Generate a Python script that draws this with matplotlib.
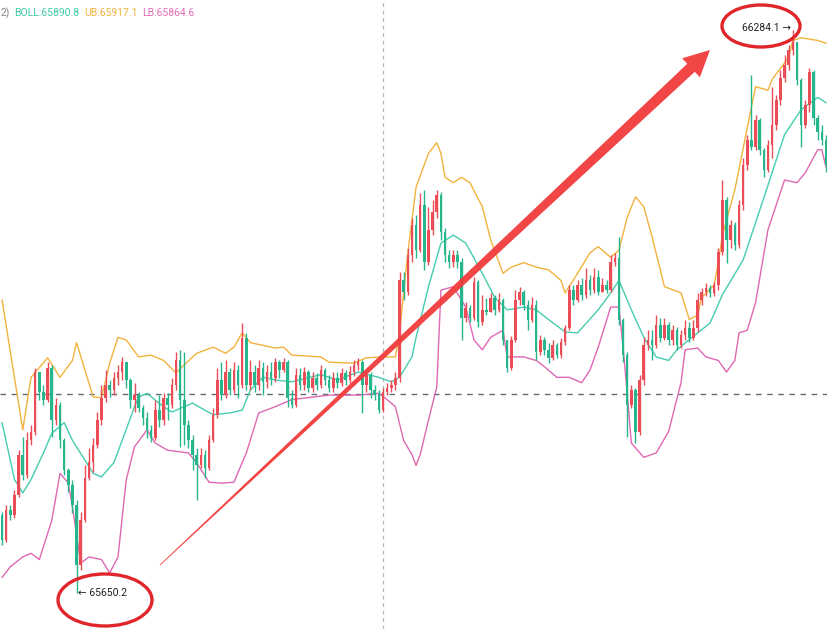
import matplotlib.pyplot as plt
from matplotlib.patches import Ellipse, Polygon
import numpy as np

# candle data (price), open of each candle = previous close
first_open = 65738
closes = [
    65710, 65744, 65738, 65761, 65806, 65783, 65822, 65832, 65899, 65876,
    65868, 65904, 65845, 65862, 65822, 65789, 65772, 65749, 65682, 65732,
    65780, 65798, 65817, 65845, 65870, 65884, 65879, 65892, 65899, 65910,
    65890, 65868, 65873, 65858, 65847, 65834, 65825, 65856, 65845, 65870,
    65862, 65884, 65912, 65868, 65839, 65822, 65806, 65794, 65806, 65791,
    65822, 65851, 65890, 65873, 65899, 65879, 65901, 65884, 65937, 65884,
    65899, 65884, 65904, 65888, 65899, 65892, 65910, 65901, 65910, 65870,
    65862, 65896, 65884, 65899, 65881, 65892, 65884, 65901, 65890, 65881,
    65892, 65887, 65898, 65890, 65899, 65907, 65910, 65884, 65896, 65879,
    65873, 65856, 65876, 65881, 65884, 65892, 66002, 65989, 66031, 66064,
    66036, 66087, 66023, 66059, 66079, 66098, 66056, 66031, 66023, 66031,
    66023, 65960, 65971, 65960, 66000, 65955, 65969, 65966, 65982, 65969,
    65980, 65935, 65904, 65935, 65980, 65989, 65974, 65958, 65974, 65922,
    65935, 65924, 65915, 65929, 65918, 65933, 65948, 65991, 65980, 65997,
    65986, 66002, 65991, 66006, 65989, 65997, 65991, 66023, 66027, 65958,
    65918, 65862, 65879, 65832, 65890, 65929, 65935, 65929, 65952, 65937,
    65952, 65935, 65946, 65929, 65941, 65948, 65937, 65948, 65980, 65989,
    65994, 65988, 65997, 66034, 66092, 66048, 66064, 66042, 66087, 66132,
    66160, 66152, 66182, 66149, 66126, 66154, 66177, 66205, 66230, 66244,
    66261, 66270, 66228, 66177, 66199, 66236, 66185, 66169, 66160, 66132,
]
highs = [
    65742, 65749, 65749, 65766, 65811, 65826, 65832, 65839, 65904, 65899,
    65884, 65910, 65907, 65870, 65865, 65825, 65791, 65778, 65755, 65742,
    65794, 65814, 65825, 65854, 65884, 65901, 65890, 65899, 65907, 65916,
    65910, 65892, 65887, 65876, 65862, 65854, 65839, 65868, 65873, 65875,
    65875, 65892, 65922, 65924, 65922, 65845, 65828, 65814, 65814, 65811,
    65828, 65858, 65904, 65910, 65912, 65904, 65910, 65907, 65954, 65943,
    65912, 65907, 65912, 65910, 65907, 65910, 65915, 65912, 65915, 65912,
    65879, 65904, 65904, 65905, 65901, 65899, 65898, 65907, 65904, 65896,
    65899, 65899, 65904, 65901, 65906, 65912, 65915, 65912, 65901, 65899,
    65884, 65879, 65881, 65887, 65890, 65899, 66011, 66011, 66038, 66072,
    66076, 66100, 66104, 66085, 66092, 66104, 66101, 66061, 66036, 66036,
    66036, 66027, 65978, 65974, 66006, 66002, 65986, 65982, 65988, 65986,
    65988, 65982, 65935, 65940, 65991, 65995, 65991, 65980, 65983, 65980,
    65941, 65938, 65932, 65935, 65932, 65937, 65952, 65997, 65997, 66002,
    66005, 66016, 66008, 66016, 66014, 66005, 66002, 66031, 66033, 66051,
    65960, 65922, 65884, 65881, 65896, 65938, 65946, 65946, 65963, 65960,
    65960, 65955, 65952, 65950, 65946, 65958, 65955, 65958, 65988, 65994,
    65999, 65997, 66000, 66038, 66115, 66096, 66070, 66068, 66092, 66140,
    66166, 66233, 66188, 66185, 66151, 66160, 66220, 66211, 66239, 66256,
    66267, 66284.1, 66267, 66230, 66205, 66241, 66239, 66188, 66177, 66166,
]
lows = [
    65704, 65708, 65732, 65735, 65758, 65778, 65780, 65817, 65828, 65868,
    65862, 65865, 65826, 65839, 65814, 65783, 65764, 65740, 65650.2, 65676,
    65730, 65778, 65786, 65814, 65839, 65865, 65871, 65873, 65884, 65890,
    65881, 65858, 65854, 65854, 65839, 65825, 65820, 65822, 65837, 65839,
    65845, 65858, 65879, 65815, 65817, 65814, 65789, 65755, 65791, 65780,
    65789, 65820, 65847, 65868, 65870, 65873, 65875, 65870, 65881, 65879,
    65879, 65876, 65879, 65873, 65881, 65884, 65888, 65892, 65899, 65860,
    65858, 65860, 65879, 65879, 65876, 65876, 65879, 65881, 65884, 65876,
    65876, 65881, 65883, 65884, 65887, 65894, 65901, 65853, 65876, 65870,
    65868, 65853, 65854, 65873, 65876, 65879, 65888, 65980, 65986, 66023,
    66027, 66034, 66014, 66019, 66053, 66072, 66048, 66023, 66016, 66017,
    66016, 65935, 65955, 65955, 65958, 65950, 65952, 65963, 65966, 65963,
    65966, 65929, 65899, 65901, 65933, 65974, 65969, 65946, 65955, 65912,
    65918, 65918, 65909, 65912, 65915, 65915, 65929, 65946, 65974, 65978,
    65980, 65982, 65986, 65988, 65986, 65989, 65988, 65989, 66018, 65952,
    65910, 65826, 65858, 65819, 65828, 65884, 65924, 65912, 65926, 65933,
    65935, 65929, 65929, 65924, 65926, 65935, 65933, 65935, 65944, 65974,
    65984, 65983, 65984, 65991, 66031, 66022, 66038, 66036, 66038, 66081,
    66126, 66149, 66149, 66143, 66118, 66124, 66140, 66171, 66199, 66225,
    66239, 66256, 66222, 66152, 66174, 66192, 66177, 66160, 66154, 66124,
]

# Bollinger bands, sampled at candle index
ub_idx = [0, 5, 7, 11, 14, 17, 18, 22, 24, 26, 28, 30, 33, 36, 39, 42, 44, 47, 51, 54,
          56, 58, 60, 66, 68, 70, 77, 79, 85, 88, 92, 95, 96, 98, 100, 103, 105, 106, 107, 109,
          111, 113, 116, 118, 121, 123, 126, 129, 132, 135, 136, 139, 142, 144, 147, 149, 151, 153, 155, 157,
          160, 164, 166, 168, 169, 172, 173, 174, 177, 181, 182, 185, 186, 190, 191, 193, 197, 199]
ub_val = [65980, 65834, 65893, 65915, 65893, 65912, 65932, 65871, 65870, 65909,
          65938, 65935, 65916, 65918, 65912, 65898, 65907, 65920, 65927, 65920,
          65927, 65943, 65932, 65926, 65927, 65918, 65916, 65910, 65909, 65915,
          65916, 65916, 65943, 66033, 66107, 66145, 66157, 66145, 66118, 66112,
          66118, 66112, 66085, 66048, 66010, 66017, 66022, 66017, 66014, 66002,
          65988, 66010, 66033, 66040, 66028, 66036, 66073, 66096, 66085, 66051,
          65995, 65988, 65958, 65963, 65983, 65997, 66022, 66053, 66104, 66197,
          66220, 66216, 66228, 66253, 66272, 66275, 66272, 66269]
mid_idx = [0, 3, 5, 7, 10, 12, 15, 17, 20, 22, 24, 27, 29, 32, 33, 35, 39, 41, 43, 46,
           49, 51, 55, 58, 60, 63, 66, 70, 77, 81, 86, 91, 94, 96, 99, 100, 103, 106, 109, 112,
           116, 119, 122, 126, 129, 132, 136, 139, 144, 147, 149, 152, 155, 158, 161, 163, 168, 171, 174, 179,
           185, 189, 193, 197, 199]
mid_val = [65842, 65778, 65763, 65778, 65808, 65830, 65842, 65822, 65800, 65785,
           65781, 65797, 65822, 65860, 65871, 65875, 65860, 65854, 65858, 65864,
           65856, 65851, 65853, 65856, 65879, 65893, 65890, 65888, 65896, 65890,
           65899, 65893, 65888, 65893, 65916, 65938, 65995, 66044, 66053, 66044,
           66010, 65983, 65969, 65972, 65969, 65958, 65944, 65943, 65969, 65988,
           66002, 65969, 65938, 65916, 65912, 65924, 65943, 65954, 65986, 66025,
           66109, 66166, 66194, 66208, 66202]
lb_idx = [0, 2, 5, 7, 9, 12, 14, 16, 17, 19, 21, 24, 26, 28, 30, 32, 35, 37, 40, 45,
          47, 50, 53, 56, 59, 62, 66, 70, 79, 86, 91, 93, 95, 97, 99, 100, 101, 103, 105, 106,
          109, 112, 114, 116, 118, 121, 122, 126, 129, 131, 134, 137, 140, 142, 144, 147, 149, 150, 151, 152,
          155, 158, 161, 164, 165, 168, 170, 173, 175, 177, 178, 180, 182, 185, 189, 192, 194, 197, 198, 199]
lb_val = [65668, 65680, 65691, 65695, 65688, 65732, 65785, 65774, 65747, 65684,
          65691, 65688, 65673, 65691, 65778, 65815, 65834, 65819, 65811, 65808,
          65797, 65775, 65774, 65775, 65808, 65853, 65860, 65868, 65873, 65873,
          65875, 65868, 65860, 65822, 65806, 65794, 65806, 65845, 65882, 65991,
          65995, 65972, 65935, 65924, 65938, 65946, 65916, 65916, 65912, 65905,
          65893, 65893, 65887, 65901, 65927, 65972, 65972, 65927, 65875, 65819,
          65803, 65808, 65832, 65887, 65924, 65926, 65916, 65912, 65899, 65912,
          65943, 65946, 65977, 66059, 66115, 66112, 66123, 66149, 66149, 66130]

legend_items = [("BOLL:65890.8", "#3cc8a6"), ("UB:65917.1", "#f2b33d"), ("LB:65864.6", "#e06cb6")]
low_text = "\u2190 65650.2"
high_text = "66284.1 \u2192"
cross_idx = 92
cross_price = 65874

W, H = 828, 629
UP, DOWN = "#eb4d57", "#27b58c"

fig = plt.figure(figsize=(W / 100, H / 100), dpi=100)
ax = fig.add_axes([0, 0, 1, 1])
ax.set_xlim(-0.5, len(closes) - 0.5)
ax.set_ylim(65609.9, 66317.5)
ax.axis("off")

c = np.array(closes, float)
o = np.r_[first_open, c[:-1]]
h = np.maximum(np.array(highs, float), np.maximum(o, c))
l = np.minimum(np.array(lows, float), np.minimum(o, c))
x = np.arange(len(c))
col = np.where(c >= o, UP, DOWN)

ax.axvline(cross_idx, color="#b5b5b5", lw=0.9, ls=(0, (3, 3)), zorder=1)
ax.axhline(cross_price, color="#5f6b70", lw=1.0, ls=(0, (4, 4)), zorder=1)

ax.vlines(x, l, h, colors=col, lw=1.0, zorder=3)
ax.bar(x, np.maximum(np.abs(c - o), 1.5), bottom=np.minimum(o, c), width=0.62,
       color=col, linewidth=0, zorder=3)

ax.plot(ub_idx, ub_val, color="#f2b33d", lw=1.0, zorder=2)
ax.plot(mid_idx, mid_val, color="#45cdb0", lw=1.0, zorder=2)
ax.plot(lb_idx, lb_val, color="#df68b2", lw=1.0, zorder=2)

fonts = ["Roboto", "DejaVu Sans"]
ax.text(1 / W, 1 - 13 / H, "2)", transform=ax.transAxes, fontsize=7.5,
        color="#888888", va="center", ha="left", family=fonts)
lx = [14, 84, 142]
for (txt, cl), px_ in zip(legend_items, lx):
    ax.text(px_ / W, 1 - 13 / H, txt, transform=ax.transAxes, fontsize=7.5,
            color=cl, va="center", ha="left", family=fonts)

ax.text(18.4, 65650.2, low_text, fontsize=7.5, color="#222222", va="center",
        ha="left", family=fonts, zorder=5)
ax.text(190.6, 66285.5, high_text, fontsize=7.5, color="#222222", va="center",
        ha="right", family=fonts, zorder=5)


def to_ax(p):
    return p[0] / W, 1 - p[1] / H


# red hand-drawn arrow (pixel geometry)
tail = np.array([160.0, 565.0])
tip = np.array([710.0, 50.0])
u = (tip - tail) / np.linalg.norm(tip - tail)
nv = np.array([-u[1], u[0]])
base = tip - 26 * u
pts = [tail + 0.4 * nv, base + 5.5 * nv, base + 13 * nv, tip,
       base - 13 * nv, base - 5.5 * nv, tail - 0.4 * nv]
ax.add_patch(Polygon([to_ax(p) for p in pts], closed=True, transform=ax.transAxes,
                     facecolor="#f23b3b", edgecolor="none", alpha=0.95, zorder=6))

for cx, cy, ew, eh in [(105, 600, 94, 52), (761, 26, 78, 42)]:
    ax.add_patch(Ellipse(to_ax((cx, cy)), ew / W, eh / H, transform=ax.transAxes,
                         fill=False, edgecolor="#e0262b", lw=2.4, zorder=6))

fig.savefig("out.png", dpi=100, facecolor="white")
